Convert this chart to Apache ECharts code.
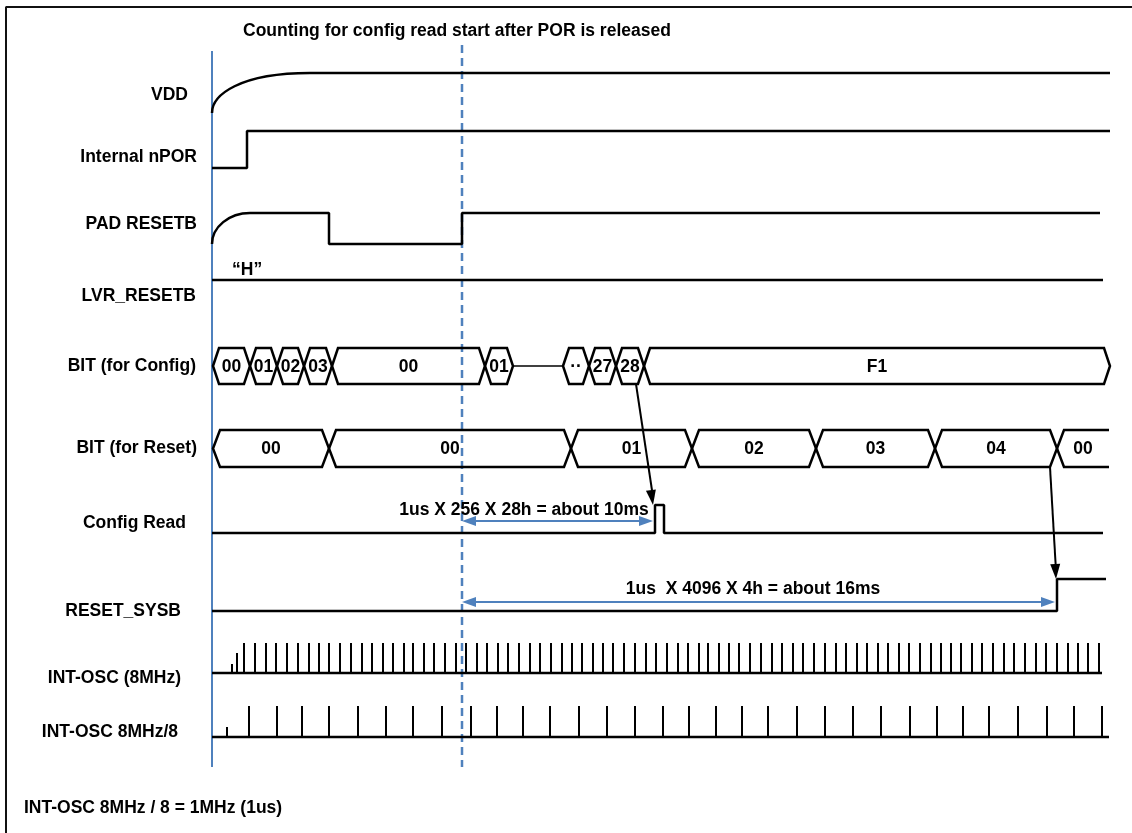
<!DOCTYPE html>
<html>
<head>
<meta charset="utf-8">
<script src="https://cdn.jsdelivr.net/npm/echarts@6/dist/echarts.min.js"></script>
<style>
  html, body { margin: 0; padding: 0; background: #fff; }
  #chart { width: 1132px; height: 833px; }
</style>
</head>
<body>
<div id="chart"></div>
<script>
// ---- data (x = time position in px) ----
var signalNames = ['VDD', 'Internal nPOR', 'PAD RESETB', 'LVR_RESETB', 'BIT (for Config)',
  'BIT (for Reset)', 'Config Read', 'RESET_SYSB', 'INT-OSC (8MHz)', 'INT-OSC 8MHz/8']
var titleText = 'Counting for config read start after POR is released'
var noteText = 'INT-OSC 8MHz / 8 = 1MHz (1us)'
var lvrText = '\u201cH\u201d'

var porTime = 212        // blue solid marker
var releaseTime = 462    // blue dashed marker (POR released)

var vddRise = [212, 310]
var vddEdges = [[310, 1], [1110, 1]]
var nporEdges = [[212, 0], [247, 1], [1110, 1]]
var padRise = [212, 250]
var padEdges = [[250, 1], [329, 0], [462, 1], [1100, 1]]
var lvrEdges = [[212, 1], [1103, 1]]
var cfgReadEdges = [[212, 0], [655, 1], [664, 0], [1103, 0]]
var resetSysEdges = [[212, 0], [1057, 1], [1106, 1]]

// bus segments: [start, end, value]
var cfgBus = [[213, 250, '00'], [250, 277, '01'], [277, 304, '02'], [304, 332, '03'], [332, 485, '00'],
  [485, 513, '01'], [563, 589, '\u00b7\u00b7'], [589, 616, '27'], [616, 644, '28'], [644, 1110, 'F1']]
var cfgIdle = [513, 563]
var rstBus = [[213, 329, '00'], [329, 571, '00'], [571, 692, '01'], [692, 816, '02'], [816, 935, '03'],
  [935, 1057, '04'], [1057, 1109, '00']]

// clocks: ramp ticks [time, level], full ticks [time]
var osc8Ramp = [[232, 0.3], [237, 0.67]]
var osc8Ticks = [244, 255, 266, 276, 287, 298, 309, 319, 329, 340, 351, 362, 372, 383, 393, 404, 413, 424,
  434, 445, 456, 466, 477, 487, 498, 508, 519, 530, 540, 551, 562, 572, 582, 593, 603, 613, 624, 635, 646,
  656, 667, 678, 688, 699, 708, 719, 729, 739, 750, 761, 772, 782, 793, 803, 814, 825, 836, 846, 857, 867,
  878, 888, 899, 909, 920, 931, 941, 951, 961, 972, 982, 993, 1004, 1014, 1025, 1036, 1046, 1057, 1068,
  1078, 1088, 1099]
var osc8End = 1102
var osc1Ramp = [[227, 0.32]]
var osc1Ticks = [249, 277, 302, 329, 358, 386, 413, 442, 471, 497, 523, 550, 579, 607, 635, 663, 689, 716,
  742, 768, 797, 825, 853, 881, 910, 937, 963, 989, 1018, 1047, 1074, 1102]
var osc1End = 1109

// measurements [from, to, text] and cause arrows [from time on bus, to time of edge]
var measures = [[462, 653, '1us X 256 X 28h = about 10ms'], [462, 1055, '1us  X 4096 X 4h = about 16ms']]
var causes = [[636, 653], [1050, 1056]]

// ---- layout ----
var W = 1132, H = 833
var FONT = 'bold 17.5px "Liberation Sans", Arial, sans-serif'
var BLUE = '#4f81bd'
var LW = 2.5
var rows = {
  vdd: {hi: 73, lo: 113},
  npor: {hi: 131, lo: 168},
  pad: {hi: 213, lo: 244},
  lvr: {hi: 280, lo: 280},
  cfg: {hi: 348, lo: 384},
  rst: {hi: 430, lo: 467},
  cfgRead: {hi: 505, lo: 533},
  resetSys: {hi: 579, lo: 611},
  osc8: {hi: 643, lo: 673},
  osc1: {hi: 706, lo: 737}
}
var labelRight = [188, 197, 197, 196, 196, 197, 186, 181, 181, 178]
var labelY = [95, 157, 224, 296, 366, 448, 523, 611, 678, 732]
var measureY = [521, 602]
var measureTextX = [524, 753]
var measureTextY = [510, 589]

var chart = echarts.init(document.getElementById('chart'))

function stepLine (edges, row) {
  return {
    type: 'line', step: 'end', symbol: 'none', silent: true, z: 3,
    lineStyle: {color: '#000', width: LW},
    data: edges.map(function (e) { return [e[0], e[1] ? row.hi : row.lo] })
  }
}

function plainLine (pts, color, width, type) {
  return {
    type: 'line', symbol: 'none', silent: true, z: 2,
    lineStyle: {color: color, width: width, type: type || 'solid'},
    data: pts
  }
}

// rising curve (RC like) from low to high
function riseCurve (span, row, k1, k2) {
  return {
    type: 'custom', silent: true, z: 3,
    data: [[span[0], row.lo], [span[1], row.hi]],
    renderItem: function (params, api) {
      if (params.dataIndex > 0) return
      var p0 = api.coord([span[0], row.lo])
      var p1 = api.coord([span[1], row.hi])
      return {
        type: 'bezierCurve',
        shape: {
          x1: p0[0], y1: p0[1], x2: p1[0], y2: p1[1],
          cpx1: p0[0], cpy1: p0[1] + k1 * (p1[1] - p0[1]),
          cpx2: p0[0] + k2 * (p1[0] - p0[0]), cpy2: p1[1]
        },
        style: {stroke: '#000', lineWidth: LW, fill: null}
      }
    }
  }
}

function bus (segs, row, slope, openEnd) {
  return {
    type: 'custom', silent: true, z: 3,
    data: segs.map(function (s) { return [s[0], s[1]] }),
    renderItem: function (params, api) {
      var seg = segs[params.dataIndex]
      var a = api.coord([seg[0], row.hi])
      var b = api.coord([seg[1], row.lo])
      var x0 = a[0], x1 = b[0], top = a[1], bot = b[1], mid = (top + bot) / 2
      var last = params.dataIndex === segs.length - 1
      var shape
      if (openEnd && last) {
        shape = {type: 'polyline', shape: {points: [[x1, top], [x0 + slope, top], [x0, mid], [x0 + slope, bot], [x1, bot]]}}
      } else {
        shape = {type: 'polygon', shape: {points: [[x0, mid], [x0 + slope, top], [x1 - slope, top], [x1, mid], [x1 - slope, bot], [x0 + slope, bot]]}}
      }
      shape.style = {stroke: '#000', lineWidth: LW, fill: 'none'}
      return {
        type: 'group',
        children: [shape, {
          type: 'text', x: (x0 + x1) / 2, y: mid + 1,
          style: {text: seg[2], font: FONT, fill: '#000', align: 'center', verticalAlign: 'middle'}
        }]
      }
    }
  }
}

function clock (ramp, ticks, row) {
  var all = ramp.concat(ticks.map(function (t) { return [t, 1] }))
  return {
    type: 'custom', silent: true, z: 3,
    data: all,
    renderItem: function (params, api) {
      var t = all[params.dataIndex]
      var p0 = api.coord([t[0], row.lo])
      var p1 = api.coord([t[0], row.lo + t[1] * (row.hi - row.lo)])
      return {
        type: 'line',
        shape: {x1: p0[0], y1: p0[1], x2: p1[0], y2: p1[1]},
        style: {stroke: '#000', lineWidth: 2}
      }
    }
  }
}

function head (tip, from, len, half) {
  var dx = tip[0] - from[0], dy = tip[1] - from[1]
  var d = Math.sqrt(dx * dx + dy * dy)
  var ux = dx / d, uy = dy / d
  var bx = tip[0] - ux * len, by = tip[1] - uy * len
  return {
    type: 'polygon',
    shape: {points: [tip, [bx - uy * half, by + ux * half], [bx + uy * half, by - ux * half]]}
  }
}

var measureSeries = {
  type: 'custom', silent: true, z: 4,
  data: measures.map(function (m) { return [m[0], m[1]] }),
  renderItem: function (params, api) {
    var i = params.dataIndex
    var m = measures[i]
    var p0 = api.coord([m[0], measureY[i]])
    var p1 = api.coord([m[1], measureY[i]])
    var tp = api.coord([measureTextX[i], measureTextY[i]])
    var h0 = head(p0, p1, 14, 5), h1 = head(p1, p0, 14, 5)
    h0.style = h1.style = {fill: BLUE}
    return {
      type: 'group',
      children: [
        {type: 'line', shape: {x1: p0[0] + 10, y1: p0[1], x2: p1[0] - 10, y2: p1[1]}, style: {stroke: BLUE, lineWidth: 2}},
        h0, h1,
        {type: 'text', x: tp[0], y: tp[1], style: {text: m[2], font: FONT, fill: '#000', align: 'center', verticalAlign: 'middle'}}
      ]
    }
  }
}

var causeRows = [[rows.cfg.lo, rows.cfgRead.hi], [rows.rst.lo, rows.resetSys.hi]]
var causeSeries = {
  type: 'custom', silent: true, z: 4,
  data: causes,
  renderItem: function (params, api) {
    var i = params.dataIndex
    var p0 = api.coord([causes[i][0], causeRows[i][0]])
    var p1 = api.coord([causes[i][1], causeRows[i][1]])
    var h = head(p1, p0, 15, 5)
    h.style = {fill: '#000'}
    return {
      type: 'group',
      children: [
        {type: 'line', shape: {x1: p0[0], y1: p0[1], x2: p1[0], y2: p1[1] - 8}, style: {stroke: '#000', lineWidth: 2}},
        h
      ]
    }
  }
}

var graphics = signalNames.map(function (name, i) {
  return {
    type: 'text', x: labelRight[i], y: labelY[i], silent: true,
    style: {text: name, font: FONT, fill: '#000', align: 'right', verticalAlign: 'middle'}
  }
})
graphics.push({type: 'text', x: 243, y: 31, style: {text: titleText, font: FONT, fill: '#000', align: 'left', verticalAlign: 'middle'}})
graphics.push({type: 'text', x: 232, y: 270, style: {text: lvrText, font: FONT, fill: '#000', align: 'left', verticalAlign: 'middle'}})
graphics.push({type: 'text', x: 24, y: 808, style: {text: noteText, font: FONT, fill: '#000', align: 'left', verticalAlign: 'middle'}})

var option = {
  animation: false,
  backgroundColor: '#fff',
  grid: {left: 0, right: 0, top: 0, bottom: 0},
  xAxis: {type: 'value', min: 0, max: W, show: false},
  yAxis: {type: 'value', min: 0, max: H, inverse: true, show: false},
  graphic: graphics,
  series: [
    // frame (left and top border)
    plainLine([[6, H], [6, 7], [W, 7]], '#111', 2),
    // markers
    plainLine([[porTime, 51], [porTime, 767]], BLUE, 2),
    plainLine([[releaseTime, 45], [releaseTime, 767]], BLUE, 2.5, [8, 5]),
    riseCurve(vddRise, rows.vdd, 0.45, 0.28),
    stepLine(vddEdges, rows.vdd),
    stepLine(nporEdges, rows.npor),
    riseCurve(padRise, rows.pad, 0.55, 0.45),
    stepLine(padEdges, rows.pad),
    stepLine(lvrEdges, rows.lvr),
    bus(cfgBus, rows.cfg, 6, false),
    plainLine([[cfgIdle[0], (rows.cfg.hi + rows.cfg.lo) / 2], [cfgIdle[1], (rows.cfg.hi + rows.cfg.lo) / 2]], '#000', 1.5),
    bus(rstBus, rows.rst, 7, true),
    stepLine(cfgReadEdges, rows.cfgRead),
    stepLine(resetSysEdges, rows.resetSys),
    plainLine([[porTime, rows.osc8.lo], [osc8End, rows.osc8.lo]], '#000', LW),
    clock(osc8Ramp, osc8Ticks, rows.osc8),
    plainLine([[porTime, rows.osc1.lo], [osc1End, rows.osc1.lo]], '#000', LW),
    clock(osc1Ramp, osc1Ticks, rows.osc1),
    measureSeries,
    causeSeries
  ]
}
chart.setOption(option)
</script>
</body>
</html>
